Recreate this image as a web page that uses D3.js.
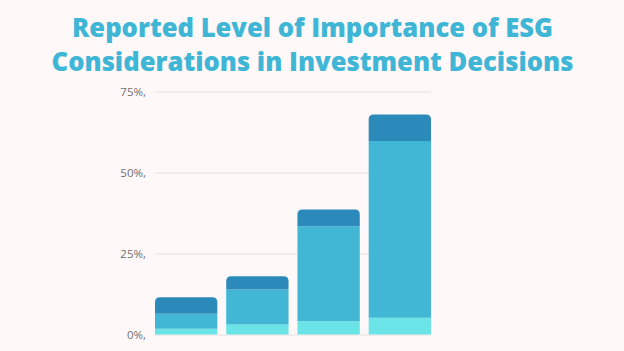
<!DOCTYPE html>
<html><head><meta charset="utf-8">
<script src="https://cdn.jsdelivr.net/npm/d3@7"></script>
<style>
html,body{margin:0;padding:0;background:#fff8f8;}
svg{display:block;}
</style></head>
<body>
<svg id="chart" width="624" height="351"></svg>
<script>
const categories = ["A", "B", "C", "D"];
const lowValues = [1.8, 3.1, 4.1, 5.2];
const midValues = [4.6, 10.8, 29.3, 54.5];
const highValues = [5.1, 4.1, 5.2, 8.2];
const tickValues = [0, 25, 50, 75];
const tickLabels = ["0%,", "25%,", "50%,", "75%,"];
const titleLines = ["Reported Level of Importance of ESG", "Considerations in Investment Decisions"];

const svg = d3.select("#chart");
const W = 624, H = 351;
svg.append("rect").attr("width", W).attr("height", H).attr("fill", "#fff8f8");

const x = d3.scaleBand().domain(categories).range([155, 431]).paddingInner(0.125).paddingOuter(0);
const y = d3.scaleLinear().domain([0, 75]).range([334.5, 91.5]);

// title
svg.selectAll("text.title").data(titleLines).join("text")
  .attr("class", "title")
  .attr("x", 312.5).attr("y", (d, i) => 36.5 + i * 34.5)
  .attr("text-anchor", "middle")
  .attr("font-family", "Open Sans, sans-serif")
  .attr("font-weight", 800)
  .attr("font-size", 25.6)
  .attr("fill", "#40b6d6")
  .text(d => d);

// grid
const yAxis = d3.axisLeft(y).tickValues(tickValues).tickSize(-(431 - 155)).tickFormat((d, i) => tickLabels[i]);
const g = svg.append("g").attr("transform", "translate(155,0)").call(yAxis);
g.select(".domain").remove();
g.selectAll(".tick line").attr("stroke", "#e6e0e0").attr("stroke-width", 1);
g.selectAll(".tick text").attr("x", -9).attr("fill", "#707070")
  .attr("font-family", "Open Sans, sans-serif").attr("font-size", 11.5);

// stacked data
const data = categories.map((c, i) => ({cat: c, low: lowValues[i], mid: midValues[i], high: highValues[i]}));
const stack = d3.stack().keys(["low", "mid", "high"])(data);
const colors = {low: "#6ae4e6", mid: "#41b6d5", high: "#2c8aba"};
const r = 5;

stack.forEach(layer => {
  const key = layer.key;
  svg.append("g").selectAll("path").data(layer).join("path")
    .attr("fill", colors[key])
    .attr("d", d => {
      const x0 = x(d.data.cat), w = x.bandwidth();
      const yTop = y(d[1]), yBot = y(d[0]);
      if (key === "high") {
        return `M${x0},${yBot} L${x0},${yTop + r} Q${x0},${yTop} ${x0 + r},${yTop} L${x0 + w - r},${yTop} Q${x0 + w},${yTop} ${x0 + w},${yTop + r} L${x0 + w},${yBot} Z`;
      }
      return `M${x0},${yBot} L${x0},${yTop} L${x0 + w},${yTop} L${x0 + w},${yBot} Z`;
    });
});
</script>
</body></html>
